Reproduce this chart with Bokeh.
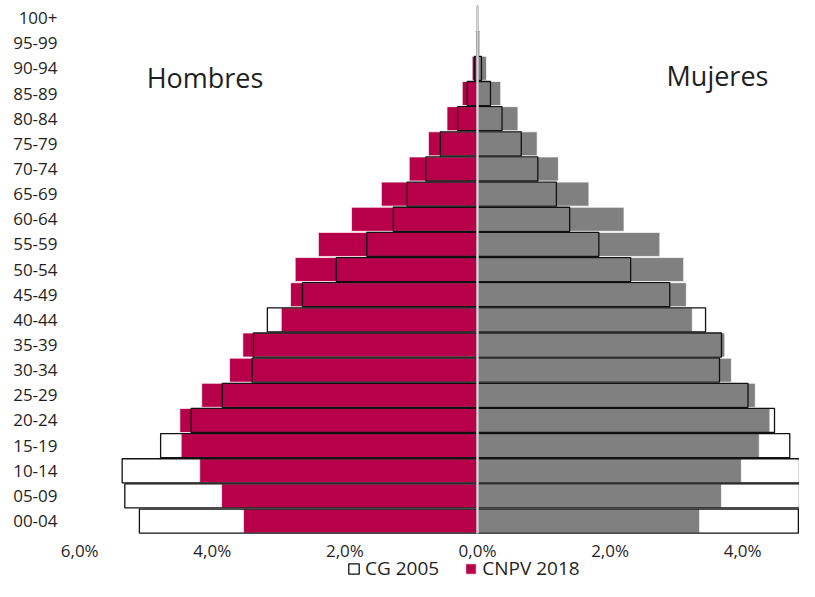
from bokeh.plotting import figure
from bokeh.models import (Range1d, FixedTicker, Label, Legend, LegendItem,
                          ColumnDataSource, LinearAxis)
from bokeh.embed import file_html
from bokeh.resources import INLINE

# ---- data (percent of total population) ----
ages = ["00-04", "05-09", "10-14", "15-19", "20-24", "25-29", "30-34", "35-39",
        "40-44", "45-49", "50-54", "55-59", "60-64", "65-69", "70-74", "75-79",
        "80-84", "85-89", "90-94", "95-99", "100+"]
male_2018 = [3.53, 3.86, 4.19, 4.47, 4.49, 4.16, 3.74, 3.54, 2.96, 2.82, 2.75,
             2.40, 1.90, 1.45, 1.03, 0.74, 0.46, 0.23, 0.08, 0.015, 0.003]
male_2005 = [5.10, 5.32, 5.36, 4.78, 4.32, 3.85, 3.40, 3.38, 3.17, 2.64, 2.13,
             1.67, 1.27, 1.06, 0.78, 0.56, 0.30, 0.155, 0.045, 0.012, 0.002]
female_2018 = [3.35, 3.68, 3.98, 4.25, 4.41, 4.19, 3.83, 3.73, 3.24, 3.15, 3.11,
               2.75, 2.21, 1.68, 1.22, 0.90, 0.61, 0.35, 0.136, 0.03, 0.005]
female_2005 = [4.84, 5.07, 5.16, 4.71, 4.48, 4.08, 3.65, 3.68, 3.44, 2.90, 2.31,
               1.83, 1.39, 1.19, 0.91, 0.66, 0.37, 0.196, 0.06, 0.015, 0.002]
x_ticks = [-6, -4, -2, 0, 2, 4]
x_tick_labels = ["6,0%", "4,0%", "2,0%", "0,0%", "2,0%", "4,0%"]
series_names = ["CG 2005", "CNPV 2018"]
side_titles = ["Hombres", "Mujeres"]

FONT = "Open Sans"
CRIMSON = "#B8004A"
GRAY = "#808080"
TXT = "#1f1f1f"

idx = list(range(len(ages)))
y_lo, y_hi = -0.5, len(ages) - 0.5
x_lo, x_hi = -7.195, 4.857
y_axis_at = -6.184
src = ColumnDataSource(data=dict(
    y=idx,
    m18=[-v for v in male_2018],
    m05=[-v for v in male_2005],
    f18=female_2018,
    f05=female_2005,
    zero=[0.0] * len(ages),
))

p = figure(width=799, height=581, output_backend="svg", toolbar_location=None,
           x_range=Range1d(x_lo, x_hi), y_range=Range1d(-2.403, y_hi),
           min_border_left=0, min_border_right=0, min_border_top=5,
           min_border_bottom=0)
p.outline_line_color = None
p.xgrid.visible = False
p.ygrid.visible = False
p.background_fill_color = "white"

H = 0.955
r18m = p.hbar(y="y", left="m18", right="zero", height=H, source=src,
              fill_color=CRIMSON, line_color="white", line_alpha=0.7, line_width=1)
r18f = p.hbar(y="y", left="zero", right="f18", height=H, source=src,
              fill_color=GRAY, line_color="white", line_alpha=0.7, line_width=1)
r05m = p.hbar(y="y", left="m05", right="zero", height=H, source=src,
              fill_color="white", fill_alpha=0.0, line_color="#111111", line_width=1.3)
r05f = p.hbar(y="y", left="zero", right="f05", height=H, source=src,
              fill_color="white", fill_alpha=0.0, line_color="#111111", line_width=1.3)

# zero (vertical category) axis line drawn at x = 0
zaxis = LinearAxis(fixed_location=0, bounds=(y_lo, y_hi), ticker=FixedTicker(ticks=[]),
                   axis_line_color="#D4D4D4", axis_line_width=2.5,
                   major_tick_line_color=None, minor_tick_line_color=None,
                   major_label_text_alpha=0)
p.add_layout(zaxis, "left")

# x axis at the bottom of the bars
p.xaxis.fixed_location = y_lo
p.xaxis.ticker = FixedTicker(ticks=x_ticks)
p.xaxis.major_label_overrides = {t: s for t, s in zip(x_ticks, x_tick_labels)}
p.xaxis.axis_line_color = None
p.xaxis.major_tick_line_color = None
p.xaxis.minor_tick_line_color = None
p.xaxis.major_tick_out = 0
p.xaxis.minor_tick_out = 0
p.xaxis.major_label_standoff = 5
p.xaxis.major_label_text_font = FONT
p.xaxis.major_label_text_font_size = "17px"
p.xaxis.major_label_text_color = TXT

# age-group axis on the left
yax = p.yaxis[0]
yax.fixed_location = y_axis_at
yax.ticker = FixedTicker(ticks=idx)
yax.major_label_overrides = {i: a for i, a in zip(idx, ages)}
yax.axis_line_color = None
yax.major_tick_line_color = None
yax.minor_tick_line_color = None
yax.major_tick_out = 0
yax.minor_tick_out = 0
yax.major_label_standoff = 10
yax.major_label_text_font = FONT
yax.major_label_text_font_size = "17px"
yax.major_label_text_color = TXT

# side titles
p.add_layout(Label(x=-4.11, y=17.65, text=side_titles[0], text_align="center",
                   text_baseline="alphabetic", text_font=FONT,
                   text_font_size="27px", text_color=TXT))
p.add_layout(Label(x=3.62, y=17.7, text=side_titles[1], text_align="center",
                   text_baseline="alphabetic", text_font=FONT,
                   text_font_size="27px", text_color=TXT))

legend = Legend(items=[LegendItem(label=series_names[0], renderers=[r05m]),
                       LegendItem(label=series_names[1], renderers=[r18m])],
                location=(347, 0), orientation="horizontal",
                glyph_width=13, glyph_height=13, label_standoff=5, spacing=25,
                label_height=14, padding=0, margin=0, border_line_color=None,
                background_fill_alpha=0.0,
                label_text_font=FONT, label_text_font_size="19px",
                label_text_color=TXT)
p.add_layout(legend, "center")

open("out.html", "w").write(file_html(p, INLINE))
